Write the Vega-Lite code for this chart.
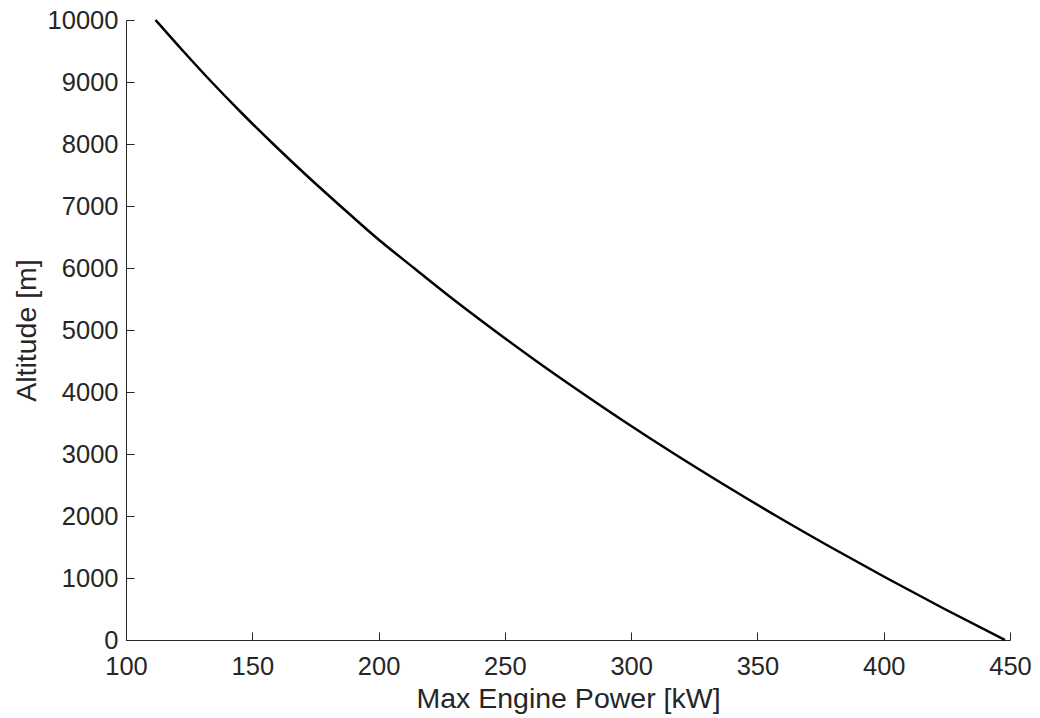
{
  "$schema": "https://vega.github.io/schema/vega-lite/v6.json",
  "autosize": {"type": "none"},
  "width": 884,
  "height": 620,
  "padding": {"left": 126, "top": 20, "right": 30, "bottom": 78},
  "background": "white",
  "config": {
    "view": {"stroke": null},
    "font": "Liberation Sans",
    "axis": {
      "domainColor": "#262626",
      "tickColor": "#262626",
      "labelColor": "#262626",
      "titleColor": "#262626",
      "labelFont": "Liberation Sans",
      "titleFont": "Liberation Sans",
      "labelFontSize": 25.5,
      "titleFontSize": 28.5,
      "titleFontWeight": "normal",
      "grid": false,
      "domainWidth": 1,
      "tickWidth": 1,
      "tickSize": -8
    }
  },
  "data": {
    "values": [
      {"power": 448.0, "altitude": 0},
      {"power": 424.1, "altitude": 500},
      {"power": 401.1, "altitude": 1000},
      {"power": 378.9, "altitude": 1500},
      {"power": 357.5, "altitude": 2000},
      {"power": 337.0, "altitude": 2500},
      {"power": 317.2, "altitude": 3000},
      {"power": 298.2, "altitude": 3500},
      {"power": 280.0, "altitude": 4000},
      {"power": 262.4, "altitude": 4500},
      {"power": 245.6, "altitude": 5000},
      {"power": 229.4, "altitude": 5500},
      {"power": 214.0, "altitude": 6000},
      {"power": 198.8, "altitude": 6500},
      {"power": 184.9, "altitude": 7000},
      {"power": 171.3, "altitude": 7500},
      {"power": 158.3, "altitude": 8000},
      {"power": 145.8, "altitude": 8500},
      {"power": 133.9, "altitude": 9000},
      {"power": 122.6, "altitude": 9500},
      {"power": 111.7, "altitude": 10000}
    ]
  },
  "mark": {"type": "line", "color": "#000000", "strokeWidth": 2.5, "interpolate": "monotone"},
  "encoding": {
    "x": {
      "field": "power",
      "type": "quantitative",
      "scale": {"domain": [100, 450], "nice": false, "zero": false},
      "axis": {"values": [100, 150, 200, 250, 300, 350, 400, 450], "format": "d", "title": "Max Engine Power [kW]", "labelPadding": 22, "titlePadding": 5, "labelFlush": false}
    },
    "y": {
      "field": "altitude",
      "type": "quantitative",
      "scale": {"domain": [0, 10000], "nice": false},
      "axis": {"values": [0, 1000, 2000, 3000, 4000, 5000, 6000, 7000, 8000, 9000, 10000], "format": "d", "title": "Altitude [m]", "labelPadding": 16, "titlePadding": 6, "labelFlush": false}
    }
  }
}
